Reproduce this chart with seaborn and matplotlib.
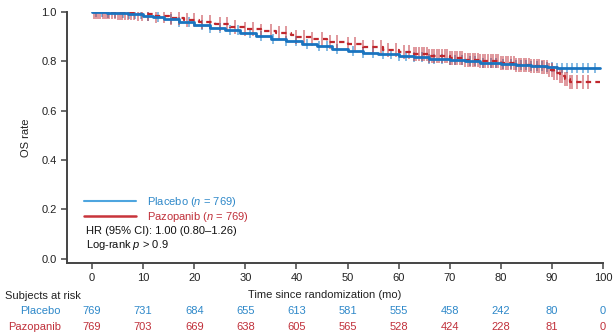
import numpy as np
import pandas as pd
import matplotlib
matplotlib.use("Agg")
import matplotlib.pyplot as plt
from matplotlib.lines import Line2D
from matplotlib.transforms import blended_transform_factory
import seaborn as sns

# ---------------- data ----------------
placebo_times = [0, 3, 7, 10, 12, 14, 17, 20, 23, 26, 29, 32, 35, 38, 41, 44, 47, 50,
                 53, 56, 60, 63, 66, 70, 73, 76, 80, 83, 86, 89, 91, 99.5]
placebo_surv = [1.0, 0.997, 0.993, 0.985, 0.978, 0.97, 0.96, 0.948, 0.937, 0.926, 0.914,
                0.903, 0.892, 0.882, 0.872, 0.862, 0.852, 0.842, 0.835, 0.828, 0.822,
                0.816, 0.81, 0.805, 0.8, 0.795, 0.79, 0.785, 0.78, 0.777, 0.775, 0.775]

pazo_times = [0, 5, 9, 12, 15, 18, 21, 24, 27, 30, 33, 36, 39, 40, 43, 46, 50, 53, 57,
              60, 63, 66, 70, 73, 76, 80, 83, 86, 88, 89.5, 90.5, 91.5, 92.5, 93.5, 99.5]
pazo_surv = [1.0, 0.997, 0.99, 0.982, 0.975, 0.967, 0.958, 0.95, 0.941, 0.932, 0.923,
             0.914, 0.905, 0.899, 0.889, 0.88, 0.869, 0.86, 0.847, 0.837, 0.828, 0.82,
             0.812, 0.806, 0.8, 0.793, 0.787, 0.783, 0.779, 0.766, 0.752, 0.74, 0.728,
             0.718, 0.718]

placebo_censor = [0.8, 2, 3.2, 4.5, 6, 7.2, 8.5, 9.5, 11, 13, 15.5, 17, 19, 21.5, 23, 25,
                  27, 28.5, 31, 33, 35.5, 38, 40, 42, 44.5, 46, 48, 51, 53, 55, 57, 58.5,
                  60, 61.5, 63, 64.5, 66, 67, 68.5, 70, 71, 72.5, 74, 75, 76.5, 78, 79,
                  80.5, 82, 83, 84, 85, 86, 87, 88, 89, 90, 91, 92, 93, 94, 95, 96, 97,
                  98.5]
pazo_censor = [0.3, 0.8, 1.2, 1.6, 2.1, 2.5, 3.0, 3.4, 3.9, 4.5, 5.0, 5.4, 5.9, 6.5, 7.0,
               7.6, 8.3, 9.0, 9.8, 11, 12.5, 14, 15.5, 17, 18.5, 20, 21.5, 23, 25, 26.5,
               28, 30, 31.5, 33, 35, 36.5, 38, 40, 41.5, 43, 45, 46.5, 48, 50, 51.5, 53,
               55, 56.5, 58, 59.5, 61, 62, 63, 63.5, 64, 64.5, 65, 65.5, 66, 66.5, 67,
               67.5, 68, 68.5, 69, 69.5, 70, 70.5, 71, 71.5, 72, 72.5, 73, 73.5, 74,
               74.5, 75, 75.5, 76, 76.5, 77, 77.5, 78, 78.5, 79, 79.5, 80, 80.5, 81,
               81.5, 82, 82.5, 83, 83.5, 84, 84.5, 85, 85.5, 86, 86.5, 87, 87.5, 88,
               88.5, 89, 89.5, 90, 90.5, 91, 91.5, 92, 92.5, 93, 93.5, 94, 95, 96, 97]

risk_times = [0, 10, 20, 30, 40, 50, 60, 70, 80, 90, 100]
placebo_risk = [769, 731, 684, 655, 613, 581, 555, 458, 242, 80, 0]
pazo_risk = [769, 703, 669, 638, 605, 565, 528, 424, 228, 81, 0]

x_ticks = [0, 10, 20, 30, 40, 50, 60, 70, 80, 90, 100]
y_ticks = [0.0, 0.2, 0.4, 0.6, 0.8, 1.0]

# ---------------- style ----------------
sns.set_theme(style="ticks")
plt.rcParams['font.family'] = ['Liberation Sans', 'DejaVu Sans']
plt.rcParams['mathtext.fontset'] = 'custom'
plt.rcParams['mathtext.rm'] = 'Liberation Sans'
plt.rcParams['mathtext.it'] = 'Liberation Sans:italic'

BLUE = "#1a74c0"
BLUE_TXT = "#2e88c9"
BLUE_CEN = "#3f93d2"
BLUE_LEG = "#4ea5df"
RED = "#c0272d"
RED_TXT = "#c0303a"
RED_CEN = "#c0303a"
RED_LEG = "#c8343b"
DARK = "#444444"
FS = 8

fig = plt.figure(figsize=(6.16, 3.36), dpi=100)
W, H = 616, 336
ax = fig.add_axes([67 / W, 1 - 263 / H, (603 - 67) / W, (263 - 12) / H])


def step_lookup(times, surv, t):
    times = np.asarray(times)
    surv = np.asarray(surv)
    idx = np.searchsorted(times, t, side='right') - 1
    return surv[idx]


df_pc = pd.DataFrame({"t": placebo_censor,
                      "s": step_lookup(placebo_times, placebo_surv, placebo_censor)})
df_zc = pd.DataFrame({"t": pazo_censor,
                      "s": step_lookup(pazo_times, pazo_surv, pazo_censor)})

sns.scatterplot(data=df_pc, x="t", y="s", marker="|", s=48, color=BLUE_CEN,
                alpha=0.8, linewidth=1.1, ax=ax, zorder=2)
sns.scatterplot(data=df_zc, x="t", y="s", marker="|", s=95, color=RED_CEN,
                alpha=0.58, linewidth=1.2, ax=ax, zorder=3)

sns.lineplot(x=pazo_times, y=pazo_surv, drawstyle="steps-post", estimator=None,
             color=RED, linewidth=1.6, ax=ax, zorder=4)
ax.lines[-1].set_dashes((2.4, 1.9))
sns.lineplot(x=placebo_times, y=placebo_surv, drawstyle="steps-post", estimator=None,
             color=BLUE, linewidth=2.0, ax=ax, zorder=5)

ax.set_xlim(-4.9, 100)
ax.set_ylim(-0.017, 1.0)
ax.set_xticks(x_ticks)
ax.set_xticklabels([str(v) for v in x_ticks])
ax.set_yticks(y_ticks)
ax.set_yticklabels([f"{v:.1f}" for v in y_ticks])
ax.tick_params(axis='both', labelsize=FS, colors=DARK, length=4, width=1.1,
               labelcolor="#222222")
for side in ["right", "top"]:
    ax.spines[side].set_visible(False)
for side in ["left", "bottom"]:
    ax.spines[side].set_color(DARK)
    ax.spines[side].set_linewidth(1.4)
ax.set_xlabel("")
ax.set_ylabel("OS rate", fontsize=FS, color="#222222")
ax.yaxis.set_label_coords(-0.068, 0.5)

# legend
handles = [Line2D([0], [0], color=BLUE_LEG, lw=1.5),
           Line2D([0], [0], color=RED_LEG, lw=1.8)]
labels = ["Placebo ($n$ = 769)", "Pazopanib ($n$ = 769)"]
leg = ax.legend(handles, labels, frameon=False, fontsize=FS, handlelength=4.7,
                handletextpad=1.0, labelspacing=0.05, borderaxespad=0, borderpad=0,
                loc="upper left", bbox_to_anchor=(84 / W, 1 - 195 / H),
                bbox_transform=fig.transFigure)
leg.get_texts()[0].set_color(BLUE_TXT)
leg.get_texts()[1].set_color(RED_TXT)

fig.text(86 / W, 1 - 231 / H, "HR (95% CI): 1.00 (0.80\u20131.26)", fontsize=FS,
         color="#111111", va="center", ha="left")
fig.text(86 / W, 1 - 245 / H, "Log-rank $p$ > 0.9", fontsize=FS,
         color="#111111", va="center", ha="left")

# x label and at-risk table
fig.text(325 / W, 1 - 295 / H, "Time since randomization (mo)", fontsize=FS,
         color="#222222", ha="center", va="center")
fig.text(5 / W, 1 - 296 / H, "Subjects at risk", fontsize=FS, color="#222222",
         ha="left", va="center")
fig.text(61 / W, 1 - 311 / H, "Placebo", fontsize=FS, color=BLUE_TXT,
         ha="right", va="center")
fig.text(61 / W, 1 - 327 / H, "Pazopanib", fontsize=FS, color=RED_TXT,
         ha="right", va="center")

trans = blended_transform_factory(ax.transData, fig.transFigure)
for t, a, b in zip(risk_times, placebo_risk, pazo_risk):
    ax.text(t, 1 - 311 / H, str(a), transform=trans, fontsize=FS, color=BLUE_TXT,
            ha="center", va="center", clip_on=False)
    ax.text(t, 1 - 327 / H, str(b), transform=trans, fontsize=FS, color=RED_TXT,
            ha="center", va="center", clip_on=False)

fig.savefig("out.png", dpi=100)
